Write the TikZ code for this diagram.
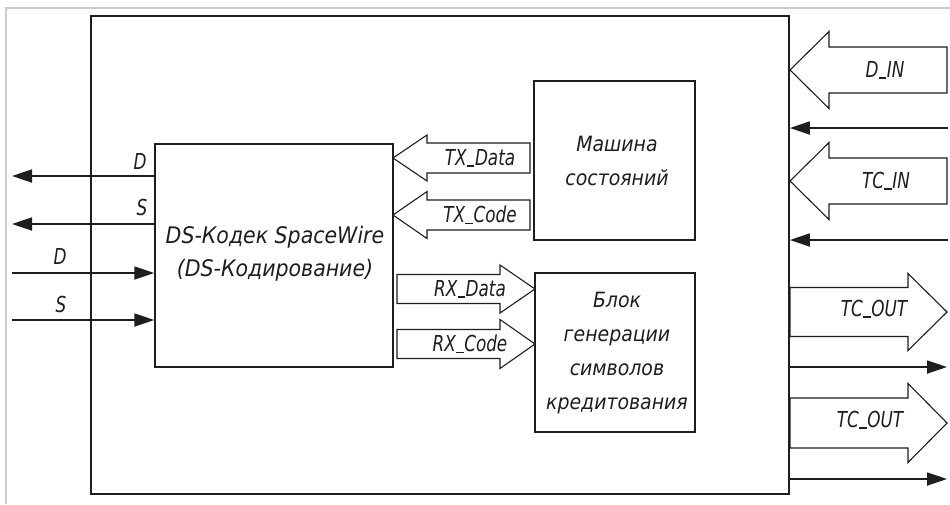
\documentclass[tikz,border=0pt]{standalone}
\usepackage{fontspec}
\setmainfont{DejaVu Sans Condensed}[ItalicFont={DejaVu Sans Condensed Oblique}]
\newfontfamily\tagfont{DejaVu Sans Condensed}[FakeStretch=0.85, ItalicFont={DejaVu Sans Condensed Oblique}]
\usetikzlibrary{arrows.meta}

\definecolor{ink}{HTML}{1E1E1E}
\definecolor{frame}{HTML}{CCCCCC}

% short low underscore for signal names
\newcommand{\us}{\kern0.3pt\rule[-1.2pt]{7.5pt}{1.3pt}\kern0.6pt}

\tikzset{
  box/.style={draw=ink, line width=1.5pt, minimum width=#1, inner sep=0pt},
  lbl/.style={text=ink, font=\fontsize{21}{34}\selectfont\itshape, inner sep=0pt, align=center},
  bigl/.style={lbl, font=\fontsize{22.8}{33}\selectfont\itshape},
  tag/.style={text=ink, font=\tagfont\fontsize{22}{26}\selectfont\itshape, inner sep=0pt},
  wire/.style={draw=ink, line width=1.8pt, -{Triangle[length=20pt,width=13pt]}},
  blockline/.style={draw=ink, line width=1.1pt, line join=miter},
}

% block arrow pointing right: start x, tip x, centre y, shaft half, head half, head length
\newcommand{\barrowR}[6]{%
  \draw[blockline] (#1,#3-#4) -- (#2-#6,#3-#4) -- (#2-#6,#3-#5) -- (#2,#3)
    -- (#2-#6,#3+#5) -- (#2-#6,#3+#4) -- (#1,#3+#4) -- cycle;}
% block arrow pointing left: tip x, tail x, centre y, shaft half, head half, head length
\newcommand{\barrowL}[6]{%
  \draw[blockline] (#1,#3) -- (#1+#6,#3-#5) -- (#1+#6,#3-#4) -- (#2,#3-#4)
    -- (#2,#3+#4) -- (#1+#6,#3+#4) -- (#1+#6,#3+#5) -- cycle;}

\begin{document}
\begin{tikzpicture}[x=1pt, y=-1pt]
\useasboundingbox (0,0) rectangle (950,504);
\fill[white] (0,0) rectangle (950,504);

% light outer frame
\draw[frame, line width=1.5pt] (6,504) -- (6,8) -- (950,8);

% module outline
\node[box=698pt, minimum height=478pt, line width=1.8pt] (outer) at (440,255) {};

% inner blocks
\node[box=238pt, minimum height=223pt] (ds) at (274,255.5) {};
\node[bigl] (dstext) at (275,253.5) {DS-Кодек SpaceWire\\(DS-Кодирование)};

\node[box=161pt, minimum height=159pt] (fsm) at (614.5,160.5) {};
\node[lbl] (fsmtext) at (617,161) {Машина\\состояний};

\node[box=160pt, minimum height=159pt] (cred) at (615,352.5) {};
\node[lbl] (credtext) at (617,353.5) {Блок\\генерации\\символов\\кредитования};

% serial link wires
\coordinate (dout) at (12,176);
\coordinate (sout) at (12,224);
\coordinate (din)  at (12,273);
\coordinate (sin)  at (12,320);
\draw[wire] (ds.west |- dout) -- (dout);
\draw[wire] (ds.west |- sout) -- (sout);
\draw[wire] (din) -- (ds.west |- din);
\draw[wire] (sin) -- (ds.west |- sin);
\node[tag] (ldo) at (140,161) {D};
\node[tag] (lso) at (142,207) {S};
\node[tag] (ldi) at (60,256) {D};
\node[tag] (lsi) at (61,304) {S};

% internal buses
\barrowL{393}{530}{158}{15}{23}{34}
\barrowL{393}{530}{215}{15}{23.5}{34}
\barrowR{397}{535}{289}{14.5}{24}{35}
\barrowR{397}{535}{344}{14.5}{24.5}{35}
\node[tag] (txd) at (480,158) {TX\us Data};
\node[tag] (txc) at (480,215) {TX\us Code};
\node[tag] (rxd) at (470,289) {RX\us Data};
\node[tag] (rxc) at (470,344) {RX\us Code};

% host side buses
\barrowL{790}{947}{70}{23}{38.5}{39}
\barrowL{790}{947}{181}{23}{38.5}{39}
\barrowR{790}{947}{312}{24.5}{38.5}{39}
\barrowR{790}{947}{423}{25}{39.5}{39}
\node[tag] (din2) at (885,70) {D\us IN};
\node[tag] (tcin) at (886,181) {TC\us IN};
\node[tag] (tco1) at (874,309) {TC\us OUT};
\node[tag] (tco2) at (870,420) {TC\us OUT};

% host side strobes
\coordinate (h1) at (948,128);
\coordinate (h2) at (948,240);
\coordinate (h3) at (947,367);
\coordinate (h4) at (947,479);
\draw[wire] (h1) -- (outer.east |- h1);
\draw[wire] (h2) -- (outer.east |- h2);
\draw[wire] (outer.east |- h3) -- (h3);
\draw[wire] (outer.east |- h4) -- (h4);
\end{tikzpicture}
\end{document}
